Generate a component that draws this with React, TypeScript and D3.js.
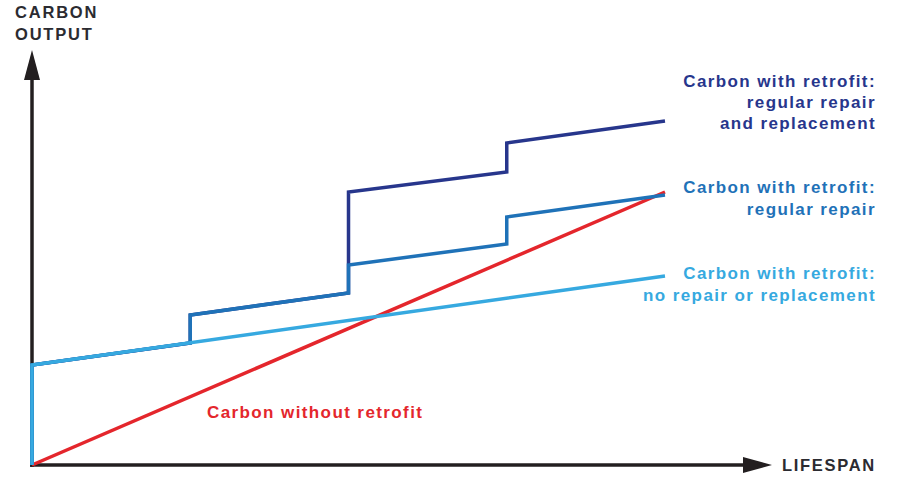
import React from "react";
import * as d3 from "d3";

const W = 914;
const H = 477;

// Lifespan (x) and carbon output (y) readings
const noRetrofitX = [0, 100];
const noRetrofitY = [0, 68.25];
const noRepairX = [0, 0, 100];
const noRepairY = [0, 25, 47.25];
const repairX = [0, 0, 25, 25, 50, 50, 75, 75, 100];
const repairY = [0, 25, 30.5, 37.5, 43, 50, 55.25, 62, 67.5];
const replaceX = [0, 0, 25, 25, 50, 50, 75, 75, 100];
const replaceY = [0, 25, 30.5, 37.5, 43, 68.25, 73.25, 80.5, 86];

const labelNavy = ["Carbon with retrofit:", "regular repair", "and replacement"];
const labelMid = ["Carbon with retrofit:", "regular repair"];
const labelLight = ["Carbon with retrofit:", "no repair or replacement"];
const labelRed = "Carbon without retrofit";
const yTitle = ["CARBON", "OUTPUT"];
const xTitle = "LIFESPAN";

const NAVY = "#27368c";
const MID = "#1f72b8";
const LIGHT = "#36a9e0";
const RED = "#e4262c";
const AXIS = "#231f20";

export default function App() {
  const x = d3.scaleLinear().domain([0, 100]).range([32, 665]);
  const y = d3.scaleLinear().domain([0, 100]).range([465, 65]);
  const line = (xs: number[], ys: number[]) =>
    d3
      .line<number>()
      .x((_, i) => x(xs[i]))
      .y((d) => y(d))(ys) as string;

  const font = "'Liberation Sans', Arial, sans-serif";
  const lblStyle = { fontFamily: font, fontWeight: 700, fontSize: 17, letterSpacing: 1.4 } as const;

  return (
    <svg width={W} height={H} style={{ position: "absolute", left: 0, top: 0 }}>
      <rect width={W} height={H} fill="#fff" />
      {/* axes */}
      <line x1={32} y1={467} x2={32} y2={76} stroke={AXIS} strokeWidth={3.5} />
      <path d="M32,50 L24,80 L40,80 Z" fill={AXIS} />
      <line x1={30} y1={465} x2={748} y2={465} stroke={AXIS} strokeWidth={3.5} />
      <path d="M772,465 L743,457 L743,473 Z" fill={AXIS} />
      {yTitle.map((t, i) => (
        <text key={t} x={15} y={18 + i * 22} fill="#2b2b31" style={{ fontFamily: font, fontWeight: 700, fontSize: 16.5, letterSpacing: 1.8 }}>
          {t}
        </text>
      ))}
      <text x={782} y={471} fill="#2b2b31" style={{ fontFamily: font, fontWeight: 700, fontSize: 16.5, letterSpacing: 1.7 }}>
        {xTitle}
      </text>

      {/* series */}
      <g fill="none" strokeWidth={3.5} strokeLinejoin="miter" strokeLinecap="butt">
        <path d={line(noRetrofitX, noRetrofitY)} stroke={RED} />
        <path d={line(replaceX, replaceY)} stroke={NAVY} />
        <path d={line(repairX, repairY)} stroke={MID} />
        <path d={line(noRepairX, noRepairY)} stroke={LIGHT} />
      </g>

      {/* labels */}
      <g textAnchor="end" style={lblStyle}>
        {labelNavy.map((t, i) => (
          <text key={t} x={876} y={87 + i * 21} fill={NAVY}>{t}</text>
        ))}
        {labelMid.map((t, i) => (
          <text key={t} x={876} y={193 + i * 21.5} fill={MID}>{t}</text>
        ))}
        {labelLight.map((t, i) => (
          <text key={t} x={876} y={279 + i * 21.5} fill={LIGHT}>{t}</text>
        ))}
      </g>
      <text x={207} y={418} fill={RED} style={lblStyle}>{labelRed}</text>
    </svg>
  );
}
